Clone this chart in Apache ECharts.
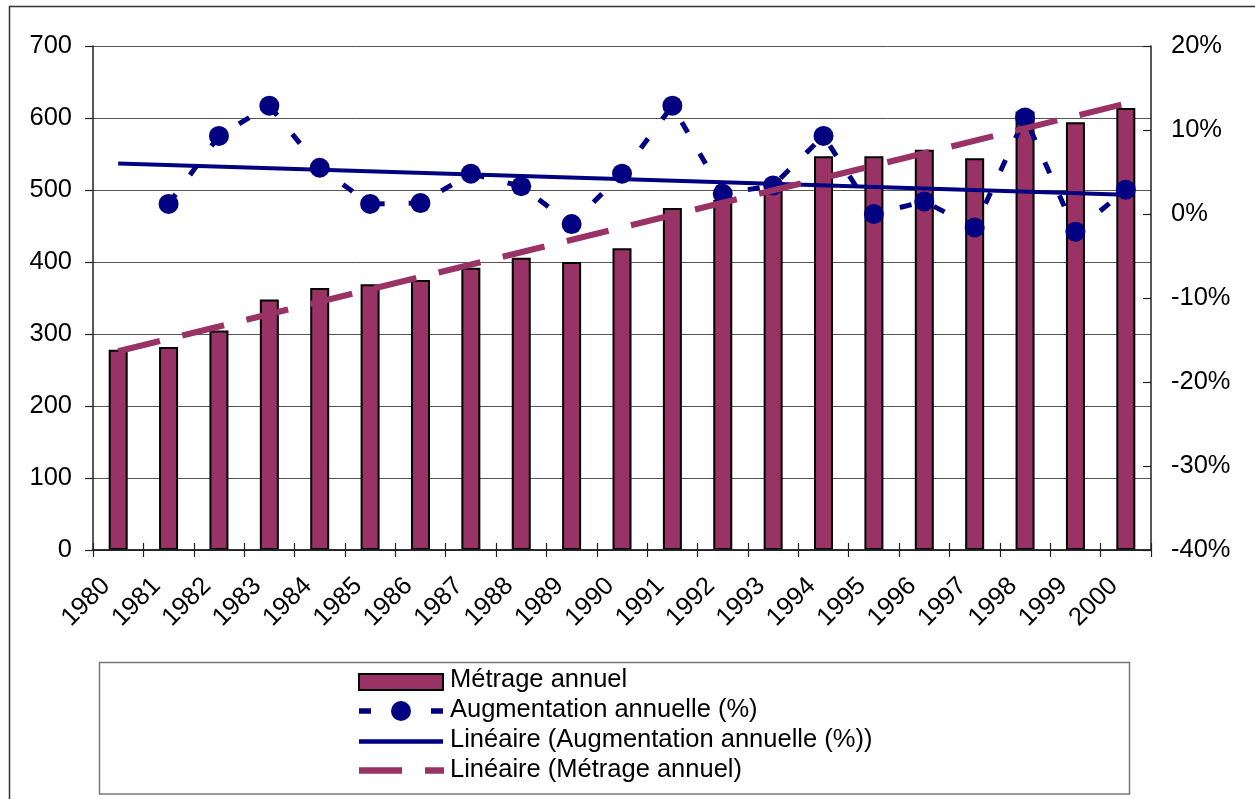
<!DOCTYPE html>
<html><head><meta charset="utf-8">
<script src="https://cdn.jsdelivr.net/npm/echarts@6/dist/echarts.min.js"></script>
<style>html,body{margin:0;padding:0;background:#fff}#c{width:1255px;height:799px}</style>
</head><body><div id="c"></div>
<script>
// ---- data ----
const years = ['1980','1981','1982','1983','1984','1985','1986','1987','1988','1989','1990',
               '1991','1992','1993','1994','1995','1996','1997','1998','1999','2000'];
const metrage = [278, 282, 305, 348, 364, 369, 375, 392, 406, 400, 419,
                 475, 486, 500, 547, 547, 556, 544, 609, 594, 614];
const augmentation = [null, 1.2, 9.3, 12.9, 5.5, 1.2, 1.3, 4.8, 3.3, -1.2, 4.8,
                      12.9, 2.4, 3.4, 9.3, 0.0, 1.5, -1.6, 11.5, -2.1, 2.9];
const trendAugmentationEnds = [6.0, 2.3];   // linear trend value at first / last year (%)
const trendMetrageEnds = [276, 620];        // linear trend value at first / last year
const leftAxisRange = [0, 700, 100];
const rightAxisRange = [-40, 20, 10];
const seriesNames = ['Métrage annuel', 'Augmentation annuelle (%)',
                     'Linéaire (Augmentation annuelle (%))', 'Linéaire (Métrage annuel)'];

const PURPLE = '#993366', NAVY = '#000080';
const FONT = '"Liberation Sans", Arial, sans-serif';
const AXIS_FS = 25.5, LEGEND_FS = 25.5;

const chart = echarts.init(document.getElementById('c'), null, {renderer: 'canvas'});

const first = years[0], last = years[years.length - 1];

// legend drawn as graphic
const lgX = 359, lgW = 84, txtX = 450;
const rowIcon = [682, 711, 741.5, 770.5];
const rowText = [680, 710, 740, 769.5];
const legendEls = [
  {type: 'rect', shape: {x: 99.5, y: 662.5, width: 1030, height: 131.5},
   style: {fill: '#fff', stroke: '#777', lineWidth: 1.5}, z: 10},
  {type: 'rect', shape: {x: lgX, y: rowIcon[0] - 8, width: lgW, height: 16},
   style: {fill: PURPLE, stroke: '#000', lineWidth: 2}, z: 11},
  {type: 'line', shape: {x1: lgX, y1: rowIcon[1], x2: lgX + lgW, y2: rowIcon[1]},
   style: {stroke: NAVY, lineWidth: 5.5, lineDash: [12, 24]}, z: 11},
  {type: 'circle', shape: {cx: lgX + lgW / 2, cy: rowIcon[1], r: 10},
   style: {fill: NAVY}, z: 12},
  {type: 'line', shape: {x1: lgX, y1: rowIcon[2], x2: lgX + lgW, y2: rowIcon[2]},
   style: {stroke: NAVY, lineWidth: 4.5}, z: 11},
  {type: 'line', shape: {x1: lgX, y1: rowIcon[3], x2: lgX + lgW + 1, y2: rowIcon[3]},
   style: {stroke: PURPLE, lineWidth: 6.5, lineDash: [43, 23]}, z: 11}
];
seriesNames.forEach((n, i) => {
  legendEls.push({type: 'text', z: 12,
    style: {text: n, x: txtX, y: rowText[i], verticalAlign: 'middle',
            fontSize: LEGEND_FS, fontFamily: FONT, fill: '#000'}});
});

const option = {
  animation: false,
  backgroundColor: '#fff',
  textStyle: {fontFamily: FONT},
  grid: {left: 93, right: 104, top: 46, bottom: 249, containLabel: false},
  xAxis: [{
    type: 'category', data: years, position: 'bottom',
    axisLine: {show: true, onZero: false, lineStyle: {color: '#222', width: 1.5}},
    axisTick: {show: true, inside: false, length: 7, lineStyle: {color: '#222', width: 1.2}},
    axisLabel: {rotate: 45, fontSize: AXIS_FS, color: '#000', margin: 20, padding: [0, 17, 0, 0], fontFamily: FONT},
    splitLine: {show: false}, z: 6
  }, {
    type: 'category', data: years, position: 'bottom',
    axisLine: {show: true, onZero: false, lineStyle: {color: '#222', width: 1.5}},
    axisTick: {show: true, inside: true, length: 7, lineStyle: {color: '#222', width: 1.2}},
    axisLabel: {show: false}, splitLine: {show: false}, z: 6
  }],
  yAxis: [{
    type: 'value', position: 'left',
    min: leftAxisRange[0], max: leftAxisRange[1], interval: leftAxisRange[2],
    axisLine: {show: true, lineStyle: {color: '#222', width: 1.5}},
    axisTick: {show: true, inside: false, length: 8, lineStyle: {color: '#222', width: 1.2}},
    axisLabel: {fontSize: AXIS_FS, color: '#000', margin: 21, fontFamily: FONT},
    splitLine: {show: true, lineStyle: {color: '#555', width: 1}}
  }, {
    type: 'value', position: 'right',
    min: rightAxisRange[0], max: rightAxisRange[1], interval: rightAxisRange[2],
    axisLine: {show: true, lineStyle: {color: '#222', width: 1.5}},
    axisTick: {show: true, inside: true, length: 8, lineStyle: {color: '#222', width: 1.2}},
    axisLabel: {fontSize: AXIS_FS, color: '#000', margin: 20, formatter: '{value}%', fontFamily: FONT},
    splitLine: {show: false}
  }],
  series: [{
    name: seriesNames[0], type: 'bar', data: metrage, xAxisIndex: 0, yAxisIndex: 0,
    barWidth: 19,
    itemStyle: {color: PURPLE, borderColor: '#000', borderWidth: 2},
    z: 2, silent: true
  }, {
    name: seriesNames[1], type: 'line', data: augmentation, xAxisIndex: 0, yAxisIndex: 1,
    symbol: 'circle', symbolSize: 20, showSymbol: true, connectNulls: false,
    lineStyle: {color: NAVY, width: 5, type: [12, 24]},
    itemStyle: {color: NAVY},
    z: 3, silent: true
  }, {
    name: seriesNames[2], type: 'line', xAxisIndex: 0, yAxisIndex: 1,
    data: [[first, trendAugmentationEnds[0]], [last, trendAugmentationEnds[1]]],
    symbol: 'none', lineStyle: {color: NAVY, width: 4},
    z: 4, silent: true
  }, {
    name: seriesNames[3], type: 'line', xAxisIndex: 0, yAxisIndex: 0,
    data: [[first, trendMetrageEnds[0]], [last, trendMetrageEnds[1]]],
    symbol: 'none', lineStyle: {color: PURPLE, width: 6, type: [43, 23]},
    z: 5, silent: true
  }],
  graphic: [
    {type: 'rect', shape: {x: 9.5, y: 6.5, width: 1400, height: 1000},
     style: {fill: 'none', stroke: '#333', lineWidth: 1.5}, z: 1, silent: true},
    ...legendEls
  ]
};
chart.setOption(option);
</script>
</body></html>
